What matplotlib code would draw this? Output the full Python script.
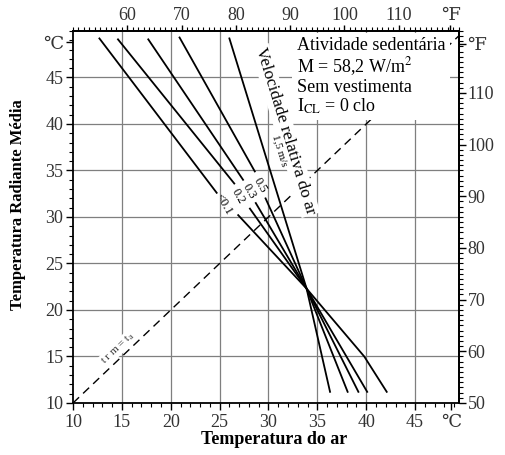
import matplotlib
matplotlib.use('Agg')
import matplotlib.pyplot as plt
from matplotlib.ticker import FixedLocator, MultipleLocator

plt.rcParams['font.family'] = ['Liberation Serif', 'DejaVu Serif']
plt.rcParams['mathtext.fontset'] = 'stix'

# air temperature (ta) / mean radiant temperature (trm), degC
# curves for each relative air speed, split where the speed label sits
speed_labels = ['<0.1', '0.2', '0.3', '0.5']
upper_ta = [[12.7, 24.7], [14.6, 26.5], [17.7, 27.4], [20.9, 28.6]]
upper_trm = [[49.2, 32.6], [49.1, 33.6], [49.1, 34.0], [49.3, 34.9]]
lower_ta = [[26.9, 33.9, 39.8, 42.1], [28.1, 33.9, 40.1], [28.7, 33.9, 39.2], [29.7, 33.9, 38.1]]
lower_trm = [[30.2, 22.3, 15.0, 11.2], [30.9, 22.3, 11.2], [31.5, 22.3, 11.2], [32.0, 22.3, 11.2]]

# 1.5 m/s curve
fast_ta = [26.0, 33.9, 36.3]
fast_trm = [49.2, 22.3, 11.2]

celsius_ticks = [10, 15, 20, 25, 30, 35, 40, 45]
fahr_top_ticks = [60, 70, 80, 90, 100, 110]
fahr_right_ticks = [50, 60, 70, 80, 90, 100, 110]

info_text = ('Atividade sedentária\n'
             'M = 58,2 W/m$^2$\n'
             'Sem vestimenta\n'
             'I$_{\\mathrm{CL}}$ = 0 clo')


def c2f(c):
    return c * 1.8 + 32


def f2c(f):
    return (f - 32) / 1.8


fig = plt.figure(figsize=(5.05, 4.55), dpi=100)
ax = fig.add_axes([0.1446, 0.1143, 0.7644, 0.8176])
ax.set_xlim(10, 49.5)
ax.set_ylim(10, 50)

# grid
for v in celsius_ticks[1:]:
    ax.axvline(v, color='#7f7f7f', lw=0.9, zorder=0)
    ax.axhline(v, color='#7f7f7f', lw=0.9, zorder=0)

# trm = ta reference line
lim = ax.get_xlim()
ax.plot(lim, lim, color='black', lw=1.0, ls=(0, (6, 4)), zorder=1)
ax.text(14.6, 15.9, 't r m = t$_{\\mathrm{a}}$', rotation=43.5, fontsize=8,
        ha='center', va='center', color='#333333',
        bbox=dict(boxstyle='square,pad=0.1', fc='white', ec='none'), zorder=2)

# speed curves, label nudged left for the two slowest
label_shift = [-3, -3, 0, 0]
for i, label in enumerate(speed_labels):
    ax.plot(upper_ta[i], upper_trm[i], color='black', lw=1.3, zorder=3)
    ax.plot(lower_ta[i], lower_trm[i], color='black', lw=1.3, zorder=3)
    mx = (upper_ta[i][-1] + lower_ta[i][0]) / 2
    my = (upper_trm[i][-1] + lower_trm[i][0]) / 2
    ax.annotate(label, (mx, my), xytext=(label_shift[i], 0), textcoords='offset points',
                rotation=-60, rotation_mode='anchor', fontsize=9,
                ha='center', va='center', zorder=4)
ax.plot(fast_ta, fast_trm, color='black', lw=1.3, zorder=3)

ax.text(31.7, 39.3, 'Velocidade relativa do ar', rotation=-73, rotation_mode='anchor',
        fontsize=12.5, ha='center', va='center',
        bbox=dict(boxstyle='square,pad=0.1', fc='white', ec='none'), zorder=4)
ax.text(31.2, 37.2, '1,5 m/s', rotation=-73, rotation_mode='anchor',
        fontsize=8, ha='center', va='center', zorder=4)

ax.text(32.9, 49.3, info_text, fontsize=13, ha='left', va='top', linespacing=1.05,
        bbox=dict(boxstyle='square,pad=0.25', fc='white', ec='none'), zorder=5)

# celsius axes
ax.xaxis.set_major_locator(FixedLocator(celsius_ticks + [48.7]))
ax.set_xticklabels([str(t) for t in celsius_ticks] + ['℃'])
ax.yaxis.set_major_locator(FixedLocator(celsius_ticks + [48.8]))
ax.set_yticklabels([str(t) for t in celsius_ticks] + ['℃'])
ax.xaxis.set_minor_locator(MultipleLocator(1))
ax.yaxis.set_minor_locator(MultipleLocator(1))
ax.tick_params(which='major', direction='out', length=5, width=1, labelsize=13,
               labelcolor='#333333')
ax.tick_params(which='minor', direction='out', length=3, width=0.8)
ax.tick_params(axis='x', pad=3)
ax.tick_params(axis='y', pad=2)

# fahrenheit axes
secx = ax.secondary_xaxis('top', functions=(c2f, f2c))
secx.set_xticks(fahr_top_ticks + [119.5], labels=[str(t) for t in fahr_top_ticks] + ['℉'])
secx.xaxis.set_minor_locator(MultipleLocator(1))
secx.tick_params(which='major', direction='out', length=4, width=1, labelsize=13,
                 labelcolor='#333333', pad=1)
secx.tick_params(which='minor', direction='out', length=3, width=0.8)

secy = ax.secondary_yaxis('right', functions=(c2f, f2c))
secy.set_yticks(fahr_right_ticks + [119.5], labels=[str(t) for t in fahr_right_ticks] + ['℉'])
secy.yaxis.set_minor_locator(MultipleLocator(1))
secy.tick_params(which='major', direction='out', length=5, width=1, labelsize=13,
                 labelcolor='#333333', pad=1)
secy.tick_params(which='minor', direction='out', length=3, width=0.8)

for a in (ax, secx, secy):
    for s in a.spines.values():
        s.set_linewidth(1.3)

fig.text(274 / 505, 1 - 440 / 455, 'Temperatura do ar', fontsize=13, fontweight='bold',
         ha='center', va='center')
fig.text(18 / 505, 1 - 205 / 455, 'Temperatura Radiante Média', fontsize=12,
         fontweight='bold', rotation=90, ha='center', va='center')

fig.savefig('out.png', dpi=100)
